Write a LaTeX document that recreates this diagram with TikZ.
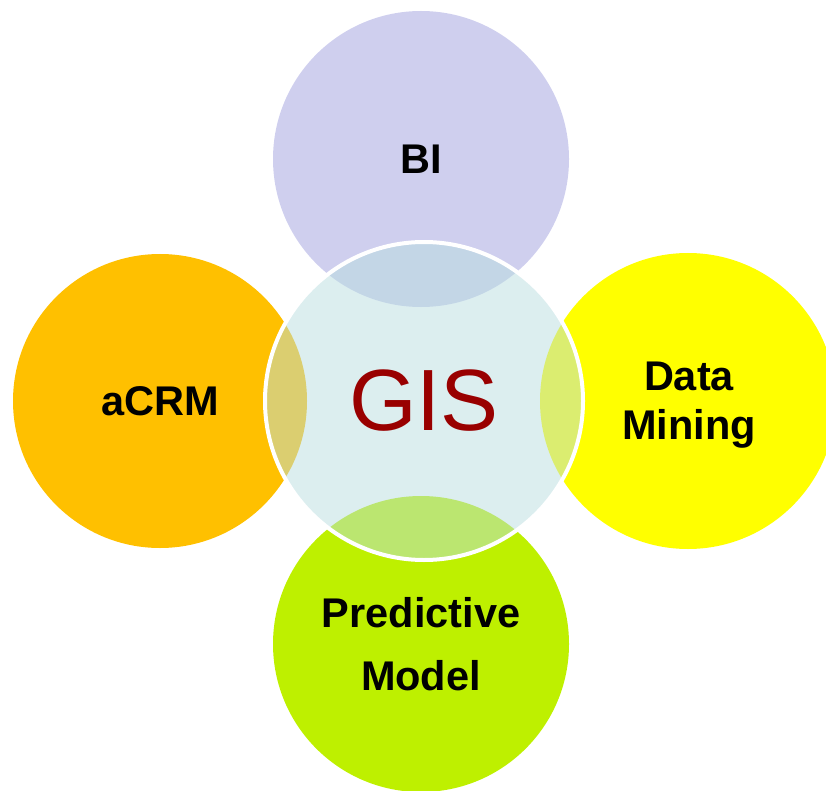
\documentclass[tikz,border=0pt]{standalone}
\usepackage{fontspec}
\setmainfont{Liberation Sans}
\definecolor{biC}{RGB}{207,207,238}
\definecolor{crmC}{RGB}{255,192,0}
\definecolor{dmC}{RGB}{255,255,0}
\definecolor{pmC}{RGB}{190,240,0}
\definecolor{gisFill}{RGB}{185,221,224}
\definecolor{gisText}{RGB}{153,0,0}
\begin{document}
\begin{tikzpicture}[x=1pt,y=-1pt,
  outer/.style={circle,inner sep=0pt,minimum size=296pt,draw=none,align=center,
    font=\bfseries\fontsize{41.5}{49}\selectfont,text=black},
  hub/.style={circle,inner sep=0pt,minimum size=318pt,draw=white,line width=4pt,
    fill=gisFill,fill opacity=0.5,text opacity=1,draw opacity=1,
    text=gisText,font=\fontsize{87}{100}\selectfont}]
\useasboundingbox (0,0) rectangle (826,791);
\clip (0,0) rectangle (826,791);
\node[outer,fill=biC] (bi) at (421,159) {BI};
\node[outer,fill=crmC,minimum size=294pt] (crm) at (160,401) {aCRM};
\node[outer,fill=dmC] (dm) at (688,401) {};
\node[font=\bfseries\fontsize{41.5}{49}\selectfont,align=center] (dmlabel) at (689,405) {Data\\Mining};
\node[outer,fill=pmC,font=\bfseries\fontsize{41.5}{63}\selectfont] (pm) at (421,644) {Predictive\\Model};
\node[hub] (gis) at (424,401) {GIS};
\end{tikzpicture}
\end{document}
